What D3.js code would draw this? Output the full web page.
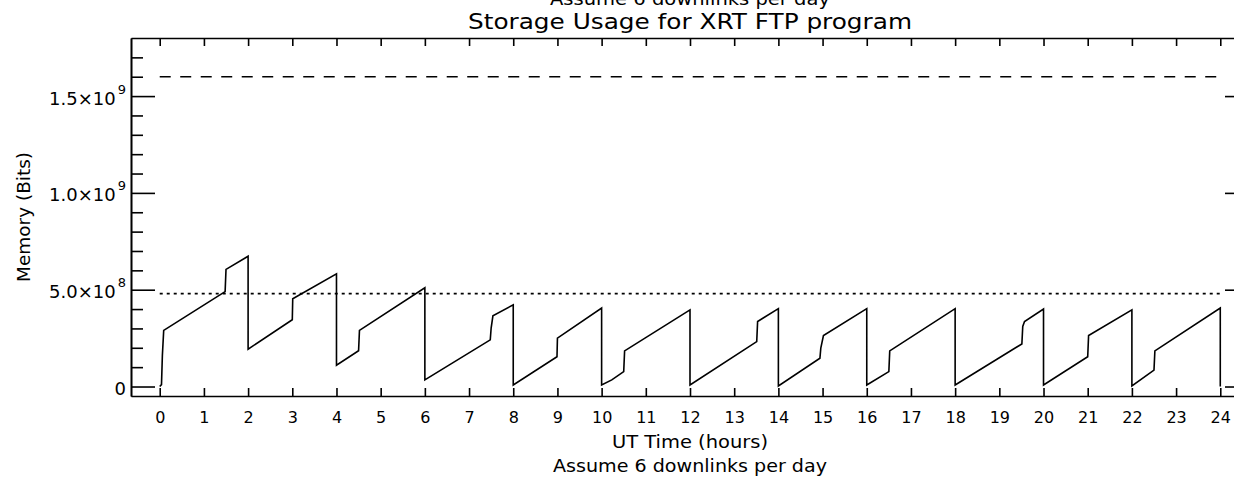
<!DOCTYPE html>
<html>
<head>
<meta charset="utf-8">
<script src="https://cdn.jsdelivr.net/npm/d3@7"></script>
<style>
  body { margin: 0; background: #fff; }
  svg { display: block; font-family: "DejaVu Sans", sans-serif; }
  .axis path, .axis line { stroke: #000; stroke-width: 1.6; }
</style>
</head>
<body>
<svg id="draw"></svg>
<script>
// storage curve: time (UT hours) and memory (bits)
var hours = [0, 0.04, 0.06, 0.09, 1.48, 1.50, 2.0, 2.0,
  3.0, 3.01, 4.0, 4.0, 4.50, 4.52, 6.0, 6.0,
  7.48, 7.50, 7.54, 8.0, 8.0, 8.99, 9.0, 10.0, 10.0,
  10.23, 10.50, 10.52, 12.0, 12.0, 13.51, 13.53, 14.0, 14.0,
  14.94, 14.96, 15.02, 16.0, 16.0, 16.50, 16.52, 18.0, 18.0,
  19.51, 19.53, 19.57, 20.0, 20.0, 21.0, 21.02, 22.0, 22.0,
  22.50, 22.52, 24.0, 24.0];
var memory = [0, 0.1e8, 1.6e8, 2.9e8, 4.9e8, 6.05e8, 6.73e8, 1.93e8,
  3.45e8, 4.53e8, 5.82e8, 1.1e8, 1.85e8, 2.9e8, 5.1e8, 0.34e8,
  2.41e8, 3.02e8, 3.65e8, 4.22e8, 0.08e8, 1.54e8, 2.5e8, 4.05e8, 0.08e8,
  0.34e8, 0.77e8, 1.84e8, 3.96e8, 0.08e8, 2.32e8, 3.36e8, 4.02e8, 0.03e8,
  1.46e8, 1.98e8, 2.63e8, 4.02e8, 0.08e8, 0.77e8, 1.84e8, 4.02e8, 0.08e8,
  2.2e8, 3.1e8, 3.36e8, 4.0e8, 0.08e8, 1.54e8, 2.63e8, 3.96e8, 0.03e8,
  0.85e8, 1.84e8, 4.05e8, 0];

// reference levels
var capacity = 1.6e9;     // dashed
var threshold = 4.8e8;    // dotted

var xTicks = d3.range(0, 25);
var yMajor = [0, 5e8, 1e9, 1.5e9];
var yMinor = d3.range(1e8, 1.8e9, 1e8).filter(function(v) { return yMajor.indexOf(v) < 0; });
var yLabels = [["0", ""], ["5.0\u00d710", "8"], ["1.0\u00d710", "9"], ["1.5\u00d710", "9"]];

var title = "Storage Usage for XRT FTP program";
var subtitle = "Assume 6 downlinks per day";
var xTitle = "UT Time (hours)";
var yTitle = "Memory (Bits)";

var W = 1234, H = 477;
// plot box (right edge falls just outside the picture)
var pLeft = 131, pRight = 1249, pTop = 38, pBottom = 396;

var svg = d3.select("#draw").attr("width", W).attr("height", H);

var xScale = d3.scaleLinear().domain([-0.65, 24.65]).range([pLeft, pRight]);
var yScale = d3.scaleLinear().domain([-4.9e7, 1.8e9]).range([pBottom, pTop]);

// frame + ticks
svg.append("g").attr("class", "axis")
  .attr("transform", "translate(0," + pBottom + ")")
  .call(d3.axisBottom(xScale).tickValues(xTicks).tickSize(-8).tickSizeOuter(0).tickPadding(16));

svg.append("g").attr("class", "axis")
  .attr("transform", "translate(0," + pTop + ")")
  .call(d3.axisTop(xScale).tickValues(xTicks).tickSize(-8).tickSizeOuter(0).tickFormat(""));

var yl = svg.append("g").attr("class", "axis")
  .attr("transform", "translate(" + pLeft + ",0)")
  .call(d3.axisLeft(yScale).tickValues(yMajor).tickSize(-24).tickSizeOuter(0).tickPadding(5));

svg.append("g").attr("class", "axis")
  .attr("transform", "translate(" + pLeft + ",0)")
  .call(d3.axisLeft(yScale).tickValues(yMinor).tickSize(-12).tickSizeOuter(0).tickFormat(""));

svg.append("g").attr("class", "axis")
  .attr("transform", "translate(" + pRight + ",0)")
  .call(d3.axisRight(yScale).tickValues(yMajor).tickSize(-24).tickSizeOuter(0).tickFormat(""));

svg.append("g").attr("class", "axis")
  .attr("transform", "translate(" + pRight + ",0)")
  .call(d3.axisRight(yScale).tickValues(yMinor).tickSize(-12).tickSizeOuter(0).tickFormat(""));

svg.selectAll(".axis text").attr("fill", "#000").attr("font-family", "DejaVu Sans");
svg.selectAll(".axis").attr("font-size", 16);

// y labels with superscript exponent
yl.selectAll(".tick text")
  .attr("font-size", 18)
  .attr("dy", 8)
  .text(null)
  .each(function(d, i) {
    var t = d3.select(this);
    t.append("tspan").text(yLabels[i][0]);
    if (yLabels[i][1]) {
      t.append("tspan").attr("font-size", 13).attr("dx", 2).attr("dy", -11).text(yLabels[i][1]);
    }
  });

// reference lines
svg.append("line")
  .attr("x1", xScale(0)).attr("x2", xScale(24))
  .attr("y1", yScale(capacity)).attr("y2", yScale(capacity))
  .attr("stroke", "#000").attr("stroke-width", 1.6)
  .attr("stroke-dasharray", "11,9.5");

svg.append("line")
  .attr("x1", xScale(0)).attr("x2", xScale(24))
  .attr("y1", yScale(threshold)).attr("y2", yScale(threshold))
  .attr("stroke", "#000").attr("stroke-width", 1.6)
  .attr("stroke-dasharray", "3,4");

// storage curve
var data = hours.map(function(h, i) { return { h: h, value: memory[i] }; });
var line = d3.line()
  .x(function(d) { return xScale(d.h); })
  .y(function(d) { return yScale(d.value); });

svg.append("path")
  .datum(data)
  .attr("d", line)
  .attr("fill", "none")
  .attr("stroke", "#000")
  .attr("stroke-width", 1.6)
  .attr("stroke-linejoin", "miter");

// titles
var cx = (pLeft + pRight) / 2;
function label(txt, x, y, size, len) {
  return svg.append("text")
    .attr("x", x).attr("y", y)
    .attr("text-anchor", "middle")
    .attr("font-size", size)
    .attr("textLength", len)
    .attr("lengthAdjust", "spacingAndGlyphs")
    .text(txt);
}
label(subtitle, cx, 5, 18, 280);
label(title, cx, 29, 21, 444);
label(xTitle, cx, 448, 18, 156);
label(subtitle, cx, 471.5, 18, 274);

svg.append("text")
  .attr("transform", "translate(30," + ((pTop + pBottom) / 2) + ") rotate(-90)")
  .attr("text-anchor", "middle")
  .attr("font-size", 17)
  .attr("textLength", 130)
  .attr("lengthAdjust", "spacingAndGlyphs")
  .text(yTitle);
</script>
</body>
</html>
